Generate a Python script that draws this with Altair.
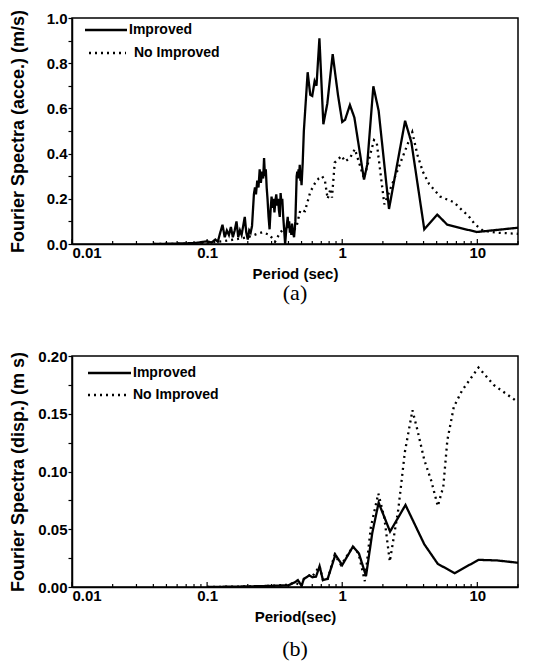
import altair as alt
import pandas as pd

FONT = "Liberation Sans"
SERIES = ["Improved", "No Improved"]

# ---------------- Panel (a): acceleration Fourier spectra ----------------
a_imp_T = [0.04, 0.06, 0.08, 0.09, 0.1, 0.108, 0.115, 0.12, 0.125, 0.13, 0.135, 0.14, 0.145,
           0.15, 0.155, 0.16, 0.165, 0.17, 0.175, 0.18, 0.185, 0.19, 0.195, 0.2, 0.205,
           0.21, 0.215, 0.222, 0.226, 0.23, 0.235, 0.24, 0.245, 0.25, 0.255, 0.26, 0.264,
           0.268, 0.272, 0.276, 0.28, 0.285, 0.29, 0.295, 0.3, 0.305, 0.31, 0.315, 0.32,
           0.325, 0.33, 0.335, 0.34, 0.345, 0.35, 0.355, 0.36, 0.365, 0.37, 0.378, 0.385,
           0.39, 0.395, 0.4, 0.405, 0.41, 0.415, 0.42, 0.425, 0.43, 0.44, 0.45, 0.46,
           0.465, 0.47, 0.475, 0.48, 0.485, 0.49, 0.495, 0.5, 0.51, 0.52, 0.555, 0.58,
           0.6, 0.625, 0.645, 0.678, 0.725, 0.775, 0.85, 0.93, 1.0, 1.05, 1.14, 1.23, 1.45,
           1.53, 1.7, 1.86, 2.22, 2.92, 3.25, 4.05, 5.05, 6.0, 9.9, 20.0]
a_imp_v = [0.0, 0.002, 0.004, 0.008, 0.012, 0.006, 0.02, 0.01, 0.05, 0.085, 0.03, 0.06, 0.04,
           0.075, 0.03, 0.06, 0.1, 0.03, 0.06, 0.04, 0.08, 0.12, 0.05, 0.02, 0.06,
           0.05, 0.08, 0.22, 0.25, 0.22, 0.28, 0.25, 0.33, 0.27, 0.32, 0.29, 0.38,
           0.3, 0.33, 0.25, 0.2, 0.12, 0.065, 0.15, 0.21, 0.16, 0.2, 0.14, 0.19,
           0.22, 0.17, 0.2, 0.15, 0.12, 0.225, 0.18, 0.2, 0.13, 0.08, 0.0, 0.06,
           0.09, 0.12, 0.07, 0.1, 0.05, 0.08, 0.04, 0.09, 0.06, 0.03, 0.1, 0.3,
           0.32, 0.29, 0.33, 0.3, 0.35, 0.28, 0.3, 0.26, 0.36, 0.5, 0.76, 0.66,
           0.655, 0.72, 0.7, 0.91, 0.53, 0.62, 0.84, 0.66, 0.54, 0.55, 0.615, 0.56, 0.285,
           0.35, 0.698, 0.59, 0.155, 0.545, 0.45, 0.065, 0.13, 0.085, 0.053, 0.072]

a_no_T = [0.04, 0.08, 0.1, 0.13, 0.16, 0.2, 0.235, 0.258, 0.29, 0.318, 0.342, 0.37, 0.4,
          0.43, 0.46, 0.49, 0.53, 0.58, 0.63, 0.67, 0.71, 0.745, 0.78, 0.82, 0.84, 0.88,
          0.99, 1.05, 1.14, 1.24, 1.45, 1.72, 1.8, 2.05, 3.3, 3.6, 3.95, 4.4, 5.3, 6.7,
          7.7, 8.6, 9.6, 11.0, 14.0, 20.0]
a_no_v = [0.0, 0.002, 0.005, 0.012, 0.02, 0.03, 0.045, 0.052, 0.04, 0.01, 0.044, 0.07, 0.06,
          0.05, 0.08, 0.15, 0.145, 0.23, 0.27, 0.29, 0.3, 0.28, 0.2, 0.245, 0.205, 0.36,
          0.39, 0.365, 0.38, 0.42, 0.29, 0.46, 0.45, 0.175, 0.495, 0.395, 0.32, 0.265, 0.21, 0.185,
          0.15, 0.124, 0.087, 0.059, 0.05, 0.045]

# ---------------- Panel (b): displacement Fourier spectra ----------------
b_imp_T = [0.1, 0.2, 0.3, 0.4, 0.445, 0.47, 0.5, 0.52, 0.57, 0.6, 0.64, 0.68, 0.72, 0.78,
           0.89, 1.0, 1.2, 1.33, 1.5, 1.67, 1.86, 2.26, 2.94, 4.05, 5.1, 6.8, 10.2, 14.0, 20.0]
b_imp_v = [0.0, 0.0005, 0.001, 0.0015, 0.004, 0.006, 0.001, 0.007, 0.01, 0.0085, 0.009, 0.018,
           0.006, 0.007, 0.028, 0.019, 0.035, 0.029, 0.0095, 0.047, 0.073, 0.048, 0.071, 0.037,
           0.02, 0.012, 0.0235, 0.023, 0.021]

b_no_T = [0.1, 0.2, 0.3, 0.4, 0.445, 0.5, 0.52, 0.57, 0.6, 0.68, 0.72, 0.78, 0.88, 0.98,
          1.2, 1.32, 1.47, 1.63, 1.85, 2.05, 2.25, 2.6, 2.91, 3.31, 3.6, 4.05, 4.56, 5.1,
          5.6, 6.0, 6.7, 7.7, 10.2, 13.2, 20.0]
b_no_v = [0.0, 0.0005, 0.001, 0.002, 0.004, 0.001, 0.007, 0.01, 0.009, 0.018, 0.006, 0.007,
          0.028, 0.019, 0.035, 0.029, 0.005, 0.052, 0.081, 0.06, 0.022, 0.067, 0.117, 0.153,
          0.136, 0.11, 0.092, 0.07, 0.087, 0.127, 0.156, 0.17, 0.19, 0.175, 0.16]

x_major = [0.01, 0.1, 1, 10]
x_minor = [0.02, 0.03, 0.04, 0.05, 0.06, 0.07, 0.08, 0.09,
           0.2, 0.3, 0.4, 0.5, 0.6, 0.7, 0.8, 0.9,
           2, 3, 4, 5, 6, 7, 8, 9, 20]
a_yticks = [0, 0.1, 0.2, 0.3, 0.4, 0.5, 0.6, 0.7, 0.8, 0.9, 1.0]
b_yticks = [0, 0.025, 0.05, 0.075, 0.1, 0.125, 0.15, 0.175, 0.2]

W = 446


def make_df(imp_T, imp_v, no_T, no_v):
    d1 = pd.DataFrame({"T": imp_T, "v": imp_v, "series": "Improved"})
    d2 = pd.DataFrame({"T": no_T, "v": no_v, "series": "No Improved"})
    return pd.concat([d1, d2], ignore_index=True)


def panel(df, H, ymax, yticks, label_expr, ytitle, xtitle, caption, cap_offset, leg):
    xs = alt.Scale(type="log", domain=[0.01, 20], nice=False)
    x = alt.X("T:Q", scale=xs,
              axis=alt.Axis(values=x_major, format="~g", title=xtitle, ticks=False,
                            tickSize=0, labelPadding=1, titlePadding=6, grid=False))
    y = alt.Y("v:Q", scale=alt.Scale(domain=[0, ymax], nice=False),
              axis=alt.Axis(values=yticks, labelExpr=label_expr, title=ytitle,
                            tickSize=4, labelPadding=1, titleX=-45, titleY=H / 2,
                            titleAlign="center", titleBaseline="bottom", grid=False))
    lines = alt.Chart(df).mark_line(color="black", strokeWidth=2.3, clip=True).encode(
        x=x, y=y,
        strokeDash=alt.StrokeDash("series:N",
                                  scale=alt.Scale(domain=SERIES, range=[[1, 0], [2, 4]]),
                                  legend=None),
    )
    major = alt.Chart(pd.DataFrame({"T": x_major})).mark_rule(
        color="black", strokeWidth=1.2).encode(x=x, y=alt.value(H), y2=alt.value(H - 5))
    minor = alt.Chart(pd.DataFrame({"T": x_minor})).mark_rule(
        color="black", strokeWidth=1.2).encode(x=x, y=alt.value(H), y2=alt.value(H - 3))
    layers = [lines, major, minor]
    for (name, dash, x1, x2, xt, yr) in leg:
        ldf = pd.DataFrame({"label": [name]})
        layers.append(alt.Chart(ldf).mark_rule(color="black", strokeWidth=2.4, strokeDash=dash)
                      .encode(x=alt.value(x1), x2=alt.value(x2), y=alt.value(yr)))
        layers.append(alt.Chart(ldf).mark_text(align="left", baseline="middle", font=FONT,
                                               fontSize=14, fontWeight="bold", color="black")
                      .encode(x=alt.value(xt), y=alt.value(yr), text="label:N"))
    return alt.layer(*layers).properties(
        width=W, height=H,
        title=alt.TitleParams(caption, orient="bottom", font="Liberation Serif", fontSize=22,
                              fontWeight="normal", color="black", offset=cap_offset,
                              anchor="middle"),
    )


dfa = make_df(a_imp_T, a_imp_v, a_no_T, a_no_v)
dfb = make_df(b_imp_T, b_imp_v, b_no_T, b_no_v)

leg_a = [("Improved", [1, 0], 13, 55, 57, 12), ("No Improved", [2, 4], 17, 54, 62, 35)]
leg_b = [("Improved", [1, 0], 16, 59, 61, 17), ("No Improved", [2, 4], 16, 55, 61, 39)]

pa = panel(dfa, 226, 1.0, a_yticks,
           "abs(datum.value*5 - round(datum.value*5)) < 0.001 ? format(datum.value, '.1f') : ''",
           "Fourier Spectra (acce.) (m/s)", "Period (sec)", "(a)", 2, leg_a)
pb = panel(dfb, 231, 0.2, b_yticks,
           "abs(datum.value*20 - round(datum.value*20)) < 0.001 ? format(datum.value, '.2f') : ''",
           "Fourier Spectra (disp.) (m s)", "Period(sec)", "(b)", 15, leg_b)

chart = alt.vconcat(pa, pb, spacing=43).properties(
    padding={"left": 0, "top": 0, "right": 0, "bottom": 0}
).configure_view(stroke="black", strokeWidth=1.5).configure_axis(
    domainColor="black", domainWidth=1.5, tickColor="black", tickWidth=1.2,
    labelFont=FONT, labelFontSize=15, labelFontWeight="bold", labelColor="black",
    titleFont=FONT, titleFontSize=15, titleFontWeight="bold", titleColor="black",
).configure_axisLeft(titleFontSize=18)

chart.save("out.html", embed_options={"renderer": "svg", "actions": False})
